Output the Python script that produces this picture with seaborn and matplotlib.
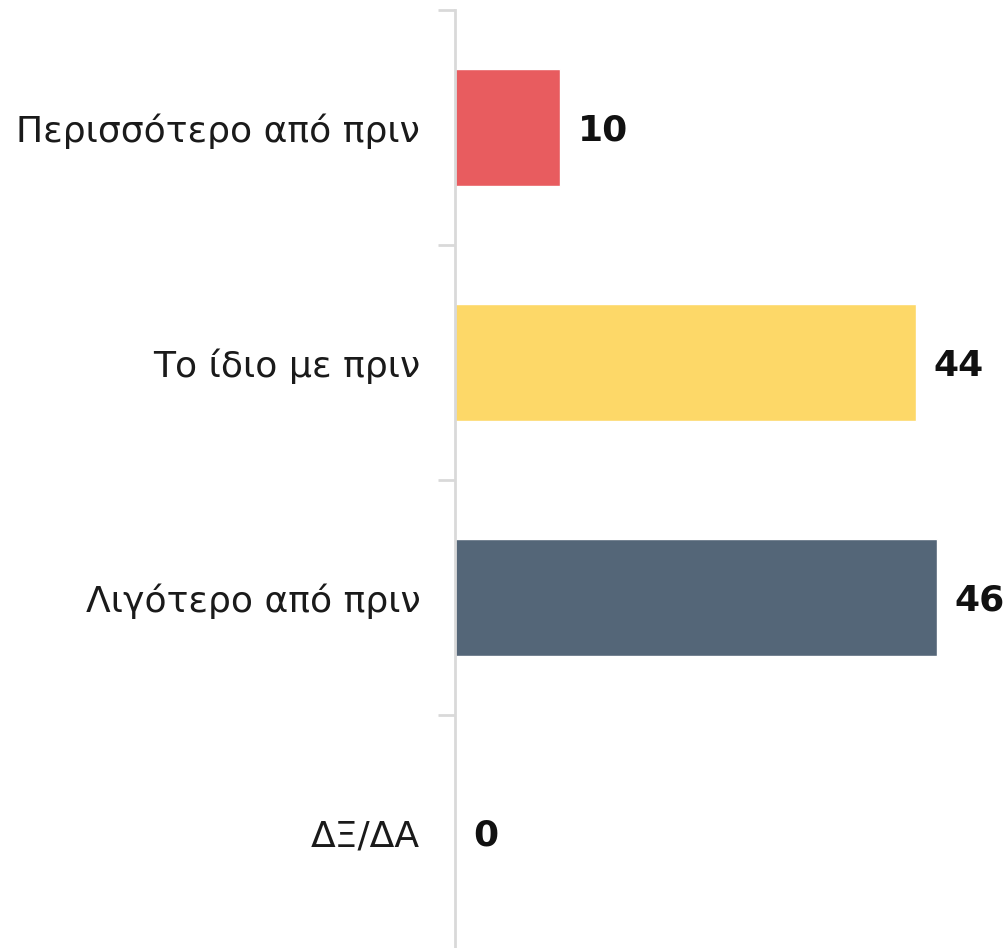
import matplotlib
matplotlib.use("Agg")
import matplotlib.pyplot as plt
import seaborn as sns
import pandas as pd

categories = ["Περισσότερο από πριν", "Το ίδιο με πριν", "Λιγότερο από πριν", "ΔΞ/ΔΑ"]
values = [10, 44, 46, 0]
colors = ["#E85C5F", "#FDD868", "#546678", "#546678"]

sns.set_theme(style="white")
plt.rcParams["font.family"] = ["DejaVu Sans"]

df = pd.DataFrame({"cat": categories, "val": values})

fig = plt.figure(figsize=(10.07, 9.48), dpi=100)
ax = fig.add_axes([455 / 1007, -2 / 948, 552 / 1007, 940 / 948])

sns.barplot(data=df, y="cat", x="val", hue="cat", palette=colors, orient="h",
            width=0.5, legend=False, ax=ax, saturation=1)

ax.set_xlim(0, 52.7)
ax.set_ylim(3.5, -0.5)
ax.set_xlabel("")
ax.set_ylabel("")
ax.set_xticks([])

for s in ["top", "right", "bottom"]:
    ax.spines[s].set_visible(False)
ax.spines["left"].set_color("#d9d9d9")
ax.spines["left"].set_linewidth(2)

# category labels at centers, boundary ticks
ax.set_yticks(range(len(categories)))
ax.set_yticklabels(categories, fontsize=26, color="#1a1a1a")
ax.tick_params(axis="y", which="major", length=0, pad=25)
ax.set_yticks([-0.5, 0.5, 1.5, 2.5, 3.5], minor=True)
ax.tick_params(axis="y", which="minor", length=12, width=2, color="#d9d9d9", left=True)

for i, v in enumerate(values):
    ax.annotate(f"{v}", xy=(v, i), xytext=(18, -3), textcoords="offset pixels",
                ha="left", va="center", fontsize=26, fontweight="bold", color="#111111")

fig.savefig("out.png", dpi=100)
